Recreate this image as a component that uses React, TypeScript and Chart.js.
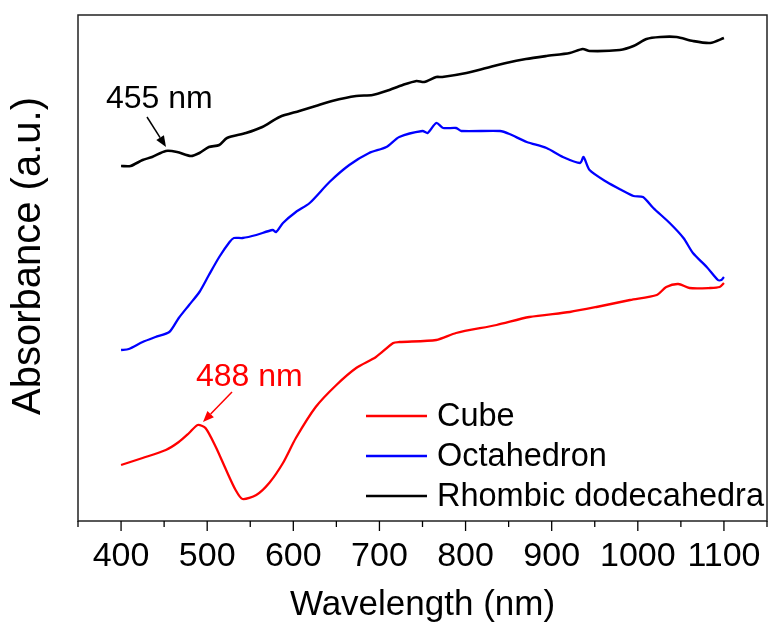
import React, { useEffect, useRef } from "react";
import { Chart, registerables } from "chart.js";

Chart.register(...registerables);

const FONT = "'Liberation Sans', Arial, Helvetica, sans-serif";

// ---- data (absorbance, arbitrary units) ----
const cubeWavelengths = [400, 425, 452, 467, 479, 489, 498, 510, 522, 533, 541, 557, 572, 588, 603, 626, 650, 673, 696, 716, 723, 766, 789, 836, 874, 921, 952, 991, 1022, 1033, 1047, 1060, 1084, 1095, 1100];
const cubeValues = [0.56, 0.63, 0.71, 0.79, 0.88, 0.96, 0.93, 0.74, 0.51, 0.31, 0.22, 0.26, 0.38, 0.58, 0.83, 1.14, 1.36, 1.53, 1.64, 1.78, 1.79, 1.81, 1.88, 1.96, 2.04, 2.09, 2.14, 2.21, 2.26, 2.34, 2.37, 2.33, 2.33, 2.34, 2.38];

const octaWavelengths = [400, 409, 425, 440, 456, 467, 479, 491, 502, 514, 526, 531, 541, 557, 576, 580, 588, 603, 619, 642, 665, 688, 708, 723, 750, 756, 766, 774, 789, 795, 840, 851, 871, 894, 913, 933, 937, 944, 964, 981, 995, 1006, 1018, 1037, 1053, 1064, 1080, 1093, 1097, 1100];
const octaValues = [1.71, 1.72, 1.79, 1.84, 1.89, 2.03, 2.16, 2.29, 2.46, 2.64, 2.79, 2.83, 2.83, 2.86, 2.91, 2.89, 2.98, 3.09, 3.18, 3.39, 3.56, 3.68, 3.74, 3.84, 3.90, 3.88, 3.98, 3.93, 3.93, 3.90, 3.90, 3.87, 3.79, 3.73, 3.64, 3.58, 3.64, 3.51, 3.39, 3.31, 3.25, 3.24, 3.13, 2.98, 2.83, 2.68, 2.54, 2.41, 2.41, 2.44];

const rhombWavelengths = [400, 411, 425, 436, 452, 465, 481, 491, 502, 514, 523, 545, 564, 584, 607, 626, 645, 673, 692, 708, 727, 743, 752, 766, 773, 801, 824, 847, 870, 894, 921, 936, 944, 979, 995, 1010, 1026, 1045, 1064, 1084, 1100];
const rhombValues = [3.55, 3.55, 3.61, 3.64, 3.70, 3.69, 3.65, 3.68, 3.74, 3.76, 3.83, 3.88, 3.94, 4.04, 4.10, 4.15, 4.20, 4.25, 4.26, 4.30, 4.36, 4.40, 4.39, 4.44, 4.44, 4.48, 4.53, 4.58, 4.62, 4.65, 4.68, 4.72, 4.70, 4.71, 4.75, 4.82, 4.84, 4.84, 4.80, 4.78, 4.83];

const seriesNames = ["Cube", "Octahedron", "Rhombic dodecahedra"];
const seriesColors = ["#FF0000", "#0000FF", "#000000"];
const xTickLabels = [400, 500, 600, 700, 800, 900, 1000, 1100];
const yTitle = "Absorbance (a.u.)";

// annotations
const peakLabels = ["455 nm", "488 nm"];

const toPoints = (xs: number[], ys: number[]) => xs.map((x, i) => ({ x, y: ys[i] }));

const decorPlugin = {
  id: "decor",
  afterDraw(chart: any) {
    const { ctx, chartArea } = chart;
    const { left, right, top, bottom } = chartArea;
    const xs = chart.scales.x;
    ctx.save();
    // frame
    ctx.strokeStyle = "#222";
    ctx.lineWidth = 1.5;
    ctx.strokeRect(left, top, right - left, bottom - top);
    // outward ticks on bottom axis (major at 100, minor at 50)
    ctx.strokeStyle = "#000";
    ctx.lineWidth = 1.3;
    xs.ticks.forEach((t: any) => {
      const px = xs.getPixelForValue(t.value);
      const len = t.value % 100 === 0 ? 10 : 6;
      ctx.beginPath();
      ctx.moveTo(px, bottom);
      ctx.lineTo(px, bottom + len);
      ctx.stroke();
    });

    // y axis title
    ctx.save();
    ctx.translate(29, 256);
    ctx.rotate(-Math.PI / 2);
    ctx.font = `40px ${FONT}`;
    ctx.fillStyle = "#000";
    ctx.textAlign = "center";
    ctx.textBaseline = "middle";
    ctx.fillText(yTitle, 0, 0);
    ctx.restore();

    // arrows + annotation text
    const arrow = (x1: number, y1: number, x2: number, y2: number, color: string) => {
      ctx.strokeStyle = color;
      ctx.fillStyle = color;
      ctx.lineWidth = 1.5;
      const ang = Math.atan2(y2 - y1, x2 - x1);
      const hl = 11;
      const hw = 4.5;
      const bx = x2 - hl * Math.cos(ang);
      const by = y2 - hl * Math.sin(ang);
      ctx.beginPath();
      ctx.moveTo(x1, y1);
      ctx.lineTo(bx, by);
      ctx.stroke();
      ctx.beginPath();
      ctx.moveTo(x2, y2);
      ctx.lineTo(bx + hw * Math.sin(ang), by - hw * Math.cos(ang));
      ctx.lineTo(bx - hw * Math.sin(ang), by + hw * Math.cos(ang));
      ctx.closePath();
      ctx.fill();
    };
    ctx.font = `32px ${FONT}`;
    ctx.textAlign = "left";
    ctx.textBaseline = "alphabetic";
    ctx.fillStyle = "#000";
    ctx.fillText(peakLabels[0], 106, 108);
    arrow(147, 117, 166, 147, "#000");
    ctx.fillStyle = "#FF0000";
    ctx.fillText(peakLabels[1], 196, 386);
    arrow(232, 392, 203, 422, "#FF0000");

    // legend
    ctx.font = `32.5px ${FONT}`;
    ctx.textBaseline = "middle";
    chart.data.datasets.forEach((ds: any, i: number) => {
      const y = 416 + i * 40;
      ctx.strokeStyle = ds.borderColor;
      ctx.lineWidth = 2.3;
      ctx.beginPath();
      ctx.moveTo(366, y);
      ctx.lineTo(427, y);
      ctx.stroke();
      ctx.fillStyle = "#000";
      ctx.fillText(ds.label, 437, y + 1);
    });
    ctx.restore();
  },
};

export default function App() {
  const ref = useRef<HTMLCanvasElement | null>(null);
  useEffect(() => {
    if (!ref.current) return;
    const chart = new Chart(ref.current, {
      type: "line",
      data: {
        datasets: [
          { label: seriesNames[0], data: toPoints(cubeWavelengths, cubeValues), borderColor: seriesColors[0], borderWidth: 2.3 },
          { label: seriesNames[1], data: toPoints(octaWavelengths, octaValues), borderColor: seriesColors[1], borderWidth: 2.3 },
          { label: seriesNames[2], data: toPoints(rhombWavelengths, rhombValues), borderColor: seriesColors[2], borderWidth: 2.6 },
        ],
      },
      options: {
        responsive: false,
        animation: false,
        events: [],
        elements: { point: { radius: 0 }, line: { tension: 0.25, fill: false } },
        layout: { padding: { top: 15, right: 2, left: 0, bottom: 0 } },
        plugins: { legend: { display: false }, tooltip: { enabled: false } },
        scales: {
          x: {
            type: "linear",
            min: 350,
            max: 1150,
            grid: { display: false, drawTicks: false },
            border: { display: false },
            afterFit: (s: any) => {
              s.height = 107;
              s.paddingLeft = 0;
              s.paddingRight = 0;
            },
            ticks: {
              stepSize: 50,
              autoSkip: false,
              maxRotation: 0,
              padding: 15,
              color: "#000",
              font: { family: FONT, size: 34 },
              callback: (v: any) => (xTickLabels.includes(Number(v)) ? String(v) : ""),
            },
            title: {
              display: true,
              text: "Wavelength (nm)",
              color: "#000",
              font: { family: FONT, size: 35 },
              padding: { top: 0, bottom: 2 },
            },
          },
          y: {
            type: "linear",
            min: 0,
            max: 5.06,
            grid: { display: false, drawTicks: false },
            border: { display: false },
            ticks: { display: false },
            afterFit: (s: any) => { s.width = 78; },
            title: { display: false },
          },
        },
      },
      plugins: [decorPlugin],
    });
    return () => chart.destroy();
  }, []);
  return (
    <div style={{ position: "fixed", left: 0, top: 0, width: 769, height: 628, background: "#fff" }}>
      <canvas ref={ref} width={769} height={628} style={{ display: "block" }} />
    </div>
  );
}
